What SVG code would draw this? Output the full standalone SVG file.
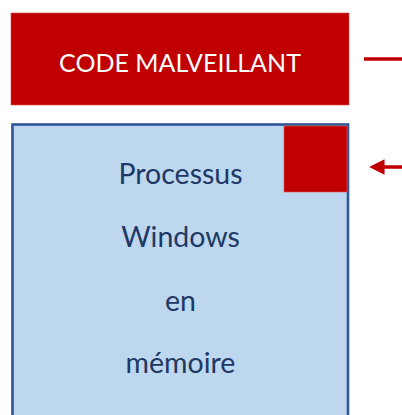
<svg xmlns="http://www.w3.org/2000/svg" width="402" height="415" viewBox="0 0 402 415">
<style>
.lbl{font-family:Lato,"Liberation Sans",sans-serif;text-anchor:middle}
.w{fill:#FFFFFF;font-size:25px}
.b{fill:#203864;font-size:28.5px}
.conn{stroke:#C00000;stroke-width:3.5;fill:none}
</style>
<defs>
<marker id="ah" viewBox="0 0 10 10" refX="1" refY="5" markerWidth="4.4" markerHeight="4.4" orient="auto-start-reverse" markerUnits="strokeWidth">
<path d="M0,0 L10,5 L0,10 Z" fill="#C00000"/>
</marker>
</defs>
<rect width="402" height="415" fill="#FFFFFF"/>
<g id="code-malveillant">
<rect x="11" y="13" width="338" height="92" fill="#C00000" stroke="#D9534F" stroke-width="0.6"/>
<text class="lbl w" x="180" y="72">CODE MALVEILLANT</text>
</g>
<g id="processus">
<rect x="12.5" y="124.5" width="335.5" height="300" fill="#BDD7EE" stroke="#2F5597" stroke-width="2.6"/>
<text class="lbl b" x="180.5" y="184">Processus</text>
<text class="lbl b" x="180.5" y="247">Windows</text>
<text class="lbl b" x="180.5" y="311">en</text>
<text class="lbl b" x="180.5" y="373">mémoire</text>
</g>
<g id="injection">
<rect x="284" y="126" width="63" height="66" fill="#C00000" stroke="#D9534F" stroke-width="0.6"/>
</g>
<g id="connectors">
<line class="conn" x1="364" y1="59" x2="402" y2="59"/>
<line class="conn" x1="402" y1="167" x2="383" y2="167" marker-end="url(#ah)"/>
</g>
</svg>
